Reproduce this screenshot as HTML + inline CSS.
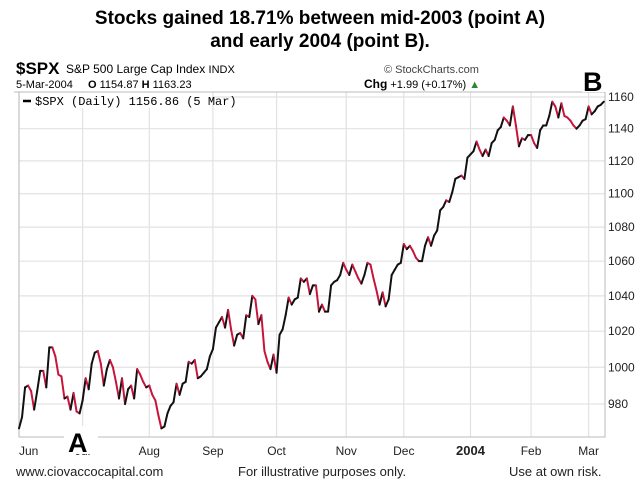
<!DOCTYPE html>
<html><head><meta charset="utf-8">
<style>
body{margin:0;background:#fff;width:640px;height:492px;overflow:hidden;font-family:"Liberation Sans",sans-serif;}
svg{display:block}
</style></head>
<body>
<svg id="c" width="640" height="492" viewBox="0 0 640 492">
<text x="320" y="24" text-anchor="middle" font-size="19" font-weight="bold">Stocks gained 18.71% between mid-2003 (point A)</text>
<text x="320" y="47" text-anchor="middle" font-size="19" font-weight="bold">and early 2004 (point B).</text>
<text x="16" y="74" font-size="17" font-weight="bold">$SPX</text>
<text x="66" y="73" font-size="12">S&amp;P 500 Large Cap Index <tspan font-size="11">INDX</tspan></text>
<text x="16" y="88" font-size="11">5-Mar-2004</text>
<text x="88" y="88" font-size="11"><tspan font-weight="bold">O</tspan> 1154.87  <tspan font-weight="bold">H</tspan> 1163.23</text>
<text x="384" y="73" font-size="11" fill="#444">© StockCharts.com</text>
<text x="364" y="88" font-size="11"><tspan font-weight="bold" font-size="12">Chg</tspan> +1.99 (+0.17%) <tspan fill="#2a8a2a">▲</tspan></text>
<line x1="14" y1="92" x2="598" y2="92" stroke="#bbb"/>
<g id="grid"></g>
<rect x="19" y="92" width="586" height="345" fill="none" stroke="#bbb"/>
<g id="series"></g>
<g id="yaxis"></g>
<g id="xaxis"></g>
<rect x="20" y="93" width="192" height="15" fill="#fff"/>
<line x1="23" y1="101" x2="31" y2="101" stroke="#000" stroke-width="2.5"/>
<text x="35" y="105" font-size="12" font-family="Liberation Mono, DejaVu Sans Mono, monospace">$SPX (Daily) 1156.86 (5 Mar)</text>
<rect x="582" y="68" width="24" height="24" fill="#fff"/>
<text x="583" y="91" font-size="27" font-weight="bold">B</text>
<rect x="64" y="426" width="34" height="28" fill="#fff"/>
<text x="68" y="452" font-size="27" font-weight="bold">A</text>
<text x="16" y="476" font-size="13" fill="#222">www.ciovaccocapital.com</text>
<text x="238" y="476" font-size="13" fill="#222">For illustrative purposes only.</text>
<text x="509" y="476" font-size="13" fill="#222">Use at own risk.</text>
</svg>
<script>
const closes = [967,973,989,990,987,977,987,998,998,989,1011,1011,1006,996,995,983,984,977,986,976,975,982,994,988,1002,1008,1009,1002,990,999,1004,1000,992,983,994,980,988,990,983,999,996,992,989,990,985,982,974,967,968,975,
979,981,991,985,991,992,1003,1002,1004,994,995,997,999,1006,1010,1022,1025,1028,1022,1032,1021,1012,1018,1019,1016,1029,1028,1040,1038,1024,1029,1009,1003,999,1007,997,1018,1021,1029,1039,1035,1038,1039,1050,1048,1050,1041,
1046,1046,1031,1035,1031,1031,1046,1048,1049,1052,1059,1055,1052,1058,1054,1050,1047,1052,1059,1058,1050,1043,1035,1042,1034,1038,1052,1055,1058,1059,1070,1067,1069,1066,1062,1060,1060,1069,1074,1069,1075,1078,1090,1092,1096,1095,1101,
1109,1110,1111,1109,1122,1124,1126,1132,1127,1123,1127,1123,1131,1133,1139,1141,1147,1145,1142,1154,1142,1129,1134,1133,1136,1136,1131,1128,1139,1142,1142,1148,1157,1154,1147,1156,1148,1147,1145,1142,1140,1142,1145,1146,1154,1149,1151,1154,1155,1157];
const yTicks = [980,1000,1020,1040,1060,1080,1100,1120,1140,1160];
const monthLabels = ["Jun","Jul","Aug","Sep","Oct","Nov","Dec","2004","Feb","Mar"];
const monthIdx = [0,21,43,64,85,108,127,149,169,188];

const NS="http://www.w3.org/2000/svg";
function xS(i){return 19 + i*3.03;}
function yS(v){return 97 + 1821*Math.log(1160/v);}
function mk(tag,attrs,parent){const e=document.createElementNS(NS,tag);for(const k in attrs)e.setAttribute(k,attrs[k]);parent.appendChild(e);return e;}
const grid=document.getElementById('grid'),ser=document.getElementById('series'),ya=document.getElementById('yaxis'),xa=document.getElementById('xaxis');
yTicks.forEach(v=>{
  const y=yS(v);
  const l=mk('line',{x1:19,x2:605,y1:y,y2:y,stroke:'#e2e2e2','stroke-width':1.2},grid);
  
  
  const t=mk('text',{x:608,y:y+4,'font-size':12,fill:'#222'},ya);
  t.textContent=v;
  
  
});
monthIdx.forEach((i,k)=>{
  const x=xS(i);
  const l=mk('line',{x1:x,x2:x,y1:92,y2:437,stroke:'#e2e2e2','stroke-width':1.2},grid);
  
  
  const t=mk('text',{x:x,y:455,'font-size':monthLabels[k]==="2004"?13:12,'font-weight':monthLabels[k]==="2004"?'bold':'normal','text-anchor':k===0?'start':'middle',fill:'#222'},xa);
  t.textContent=monthLabels[k];
  
  
});
for(let i=1;i<closes.length;i++){
  const up=closes[i]>=closes[i-1];
  const s=mk('line',{x1:xS(i-1),y1:yS(closes[i-1]),x2:xS(i),y2:yS(closes[i]),stroke:up?'#111':'#c8143c','stroke-width':2,'stroke-linecap':'round'},ser);
  
  
}
</script>
</body></html>
